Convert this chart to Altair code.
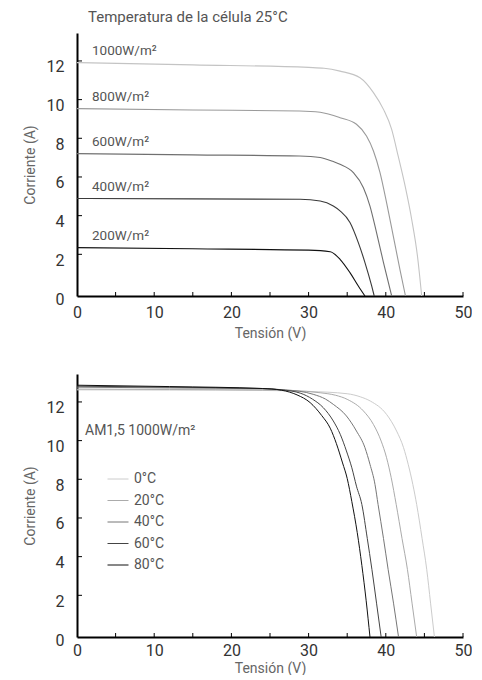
import altair as alt
import pandas as pd

FONT = "Roboto"

# ---------- top panel: irradiance ----------
irr_names = ["1000W/m²", "800W/m²", "600W/m²", "400W/m²", "200W/m²"]
irr_colors = ["#c4c4c4", "#9a9a9a", "#707070", "#3a3a3a", "#111111"]

v_1000 = [0, 15, 30, 32, 34.07, 36.66, 38.4, 39.7, 40.76, 41.6, 42.5, 43.35, 44.1, 44.65]
i_1000 = [12.07, 11.95, 11.82, 11.78, 11.63, 11.29, 10.52, 9.65, 8.62, 7.24, 5.69, 3.97, 2.07, 0]

v_800 = [0, 15, 28.8, 31.5, 34.07, 36.2, 37.5, 38.4, 39.25, 40.1, 40.97, 41.84, 42.55]
i_800 = [9.69, 9.62, 9.57, 9.5, 9.22, 8.88, 8.27, 7.5, 6.38, 4.83, 3.1, 1.35, 0]

v_600 = [0, 15, 28.8, 31.5, 33.2, 34.07, 35.8, 37.1, 37.95, 38.8, 39.7, 40.76]
i_600 = [7.36, 7.3, 7.24, 7.16, 6.95, 6.81, 6.38, 5.6, 4.65, 3.28, 1.73, 0]

v_400 = [0, 15, 28.9, 31.5, 33.2, 34.07, 35.36, 36.44, 37.3, 38.17, 38.5]
i_400 = [5.04, 5.02, 5.0, 4.91, 4.65, 4.4, 3.8, 2.76, 1.73, 0.52, 0]

v_200 = [0, 15, 30, 32.8, 34.07, 35.36, 36.44, 37.3]
i_200 = [2.5, 2.44, 2.37, 2.29, 1.9, 1.21, 0.52, 0]

# ---------- bottom panel: temperature ----------
temp_names = ["0°C", "20°C", "40°C", "60°C", "80°C"]
temp_colors = ["#cccccc", "#ababab", "#777777", "#444444", "#111111"]
temp_widths = [1.0, 1.0, 1.2, 1.4, 1.6]

v_t0 = [0, 12, 24, 30, 35.0, 36.7, 38.0, 40.1, 41.4, 42.3, 42.9, 43.5, 44.0, 44.7, 45.3, 45.8, 46.3]
i_t0 = [12.78, 12.77, 12.75, 12.7, 12.58, 12.42, 12.2, 11.51, 10.65, 9.79, 8.93, 7.89, 6.85, 5.1, 3.5, 1.75, 0]

v_t20 = [0, 12, 24, 28, 31.5, 33.5, 35.0, 37.1, 38.4, 39.4, 40.1, 40.7, 41.35, 42.1, 42.8, 43.4, 44.0]
i_t20 = [12.82, 12.8, 12.77, 12.74, 12.63, 12.5, 12.29, 11.69, 10.99, 10.13, 9.27, 8.24, 6.85, 5.1, 3.5, 1.75, 0]

v_t40 = [0, 12, 24, 27, 30.6, 32.2, 33.2, 34.9, 36.2, 37.3, 37.95, 38.6, 39.0, 39.7, 40.3, 41.0, 41.65]
i_t40 = [12.92, 12.88, 12.83, 12.78, 12.55, 12.3, 12.03, 11.43, 10.65, 9.79, 8.93, 7.89, 6.85, 5.1, 3.5, 1.75, 0]

v_t60 = [0, 12, 24, 26.5, 29.0, 30.5, 31.9, 33.2, 34.1, 34.9, 35.6, 36.2, 36.9, 37.6, 38.2, 38.8, 39.4]
i_t60 = [12.97, 12.92, 12.85, 12.78, 12.6, 12.3, 11.86, 11.17, 10.48, 9.62, 8.75, 7.8, 6.85, 5.1, 3.5, 1.75, 0]

v_t80 = [0, 12, 24, 26.5, 28.5, 30.2, 31.7, 32.8, 33.6, 34.4, 35.0, 35.6, 36.3, 36.9, 37.45, 37.95]
i_t80 = [13.02, 12.95, 12.85, 12.76, 12.52, 12.12, 11.45, 10.8, 10.0, 9.0, 8.2, 7.0, 5.4, 3.7, 1.9, 0]

x_ticks = [5, 10, 15, 20, 25, 30, 35, 40, 45, 50]
x_labels = [0, 10, 20, 30, 40, 50]
y_ticks = [2, 4, 6, 8, 10, 12]
y_labels = [0, 2, 4, 6, 8, 10, 12]

W, H = 386, 263


def frame(names, vs, is_):
    rows = []
    for n, vv, ii in zip(names, vs, is_):
        for k, (a, b) in enumerate(zip(vv, ii)):
            rows.append({"serie": n, "V": a, "I": b, "k": k})
    return pd.DataFrame(rows)


df_top = frame(irr_names, [v_1000, v_800, v_600, v_400, v_200],
               [i_1000, i_800, i_600, i_400, i_200])
df_bot = frame(temp_names, [v_t0, v_t20, v_t40, v_t60, v_t80],
               [i_t0, i_t20, i_t40, i_t60, i_t80])
df_top_lab = pd.DataFrame({"serie": irr_names,
                           "I": [i_1000[0], i_800[0], i_600[0], i_400[0], i_200[0]]})

xscale = alt.Scale(domain=[0, 50], nice=False)
yscale = alt.Scale(domain=[0, 13.6], nice=False)


def xaxis(label_pad, title_pad):
    return alt.Axis(values=x_labels, ticks=False, tickSize=0, grid=False,
                    domainColor="#000", domainWidth=2, labelFont=FONT,
                    labelFontSize=16, labelColor="#333", labelPadding=label_pad,
                    labelFlush=False,
                    title="Tensión (V)", titleFont=FONT, titleFontSize=14,
                    titleFontWeight="normal", titleColor="#666", titlePadding=title_pad)


yaxis = alt.Axis(values=y_labels, ticks=False, tickSize=0, grid=False,
                 domainColor="#000", domainWidth=2, labelFont=FONT,
                 labelFontSize=16, labelColor="#333", labelPadding=13,
                 labelOffset=3,
                 title="Corriente (A)", titleFont=FONT, titleFontSize=14,
                 titleFontWeight="normal", titleColor="#666", titlePadding=9)


def tick_layers():
    xt = alt.Chart(pd.DataFrame({"V": x_ticks})).mark_rule(
        color="#000", strokeWidth=1).encode(
        x=alt.X("V:Q", scale=xscale), y=alt.value(H), y2=alt.value(H - 4))
    yt = alt.Chart(pd.DataFrame({"I": y_ticks})).mark_rule(
        color="#000", strokeWidth=1, yOffset=-3).encode(
        y=alt.Y("I:Q", scale=yscale), x=alt.value(0), x2=alt.value(5))
    return [xt, yt]


top_lines = alt.Chart(df_top).mark_line(interpolate="monotone", strokeWidth=1.1).encode(
    x=alt.X("V:Q", scale=xscale, axis=xaxis(8, 6)),
    y=alt.Y("I:Q", scale=yscale, axis=yaxis),
    color=alt.Color("serie:N", scale=alt.Scale(domain=irr_names, range=irr_colors), legend=None),
    order="k:Q",
)
top_text = alt.Chart(df_top_lab).mark_text(
    align="left", baseline="middle", dy=-12, font=FONT, fontSize=13.5, color="#555").encode(
    x=alt.value(15), y=alt.Y("I:Q", scale=yscale), text="serie:N")

top = alt.layer(top_lines, top_text, *tick_layers()).properties(
    width=W, height=H,
    title=alt.TitleParams("Temperatura de la célula 25°C", anchor="start", frame="group",
                          dx=11, font=FONT, fontSize=15, fontWeight="normal",
                          color="#555", offset=8))

bot_lines = alt.Chart(df_bot).mark_line(interpolate="monotone").encode(
    x=alt.X("V:Q", scale=xscale, axis=xaxis(5, 3)),
    y=alt.Y("I:Q", scale=yscale, axis=yaxis),
    color=alt.Color("serie:N", scale=alt.Scale(domain=temp_names, range=temp_colors),
                    legend=alt.Legend(title=None, orient="none", legendX=30, legendY=94,
                                      symbolType="stroke", symbolSize=441,
                                      symbolStrokeWidth=1.3, labelFont=FONT,
                                      labelFontSize=14, labelColor="#555",
                                      labelOffset=5, rowPadding=3.5)),
    strokeWidth=alt.StrokeWidth("serie:N", scale=alt.Scale(domain=temp_names, range=temp_widths),
                                legend=None),
    order="k:Q",
)
bot_text = alt.Chart(pd.DataFrame({"t": ["AM1,5 1000W/m²"]})).mark_text(
    align="left", baseline="middle", font=FONT, fontSize=14, color="#555").encode(
    x=alt.value(8), y=alt.value(57), text="t:N")

bottom = alt.layer(bot_lines, bot_text, *tick_layers()).properties(width=W, height=H)

chart = alt.vconcat(top, bottom, spacing=34).resolve_scale(
    color="independent", strokeWidth="independent"
).properties(
    padding={"left": 15, "top": 2, "right": 0, "bottom": 0}
).configure_view(stroke=None)

chart.save("out.html", embed_options={"renderer": "svg", "actions": False})
